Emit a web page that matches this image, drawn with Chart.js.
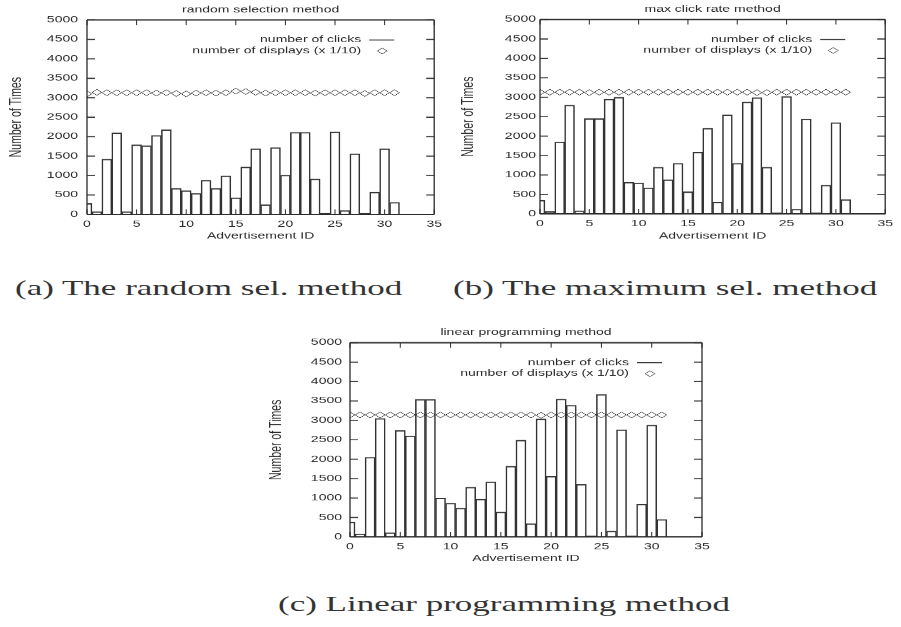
<!DOCTYPE html>
<html>
<head>
<meta charset="utf-8">
<script src="https://cdn.jsdelivr.net/npm/chart.js@4.4.1/dist/chart.umd.min.js"></script>
<style>
  body { margin: 0; background: #fff; width: 901px; height: 627px; position: relative; overflow: hidden; }
  canvas { position: absolute; }
  .cap {
    position: absolute;
    font: 35px/35px "Liberation Serif", "Times New Roman", serif;
    color: #333;
    white-space: nowrap;
    transform: scaleY(0.6);
    transform-origin: 0 0;
  }
</style>
</head>
<body>
<canvas id="randomChart"></canvas>
<canvas id="maxChart"></canvas>
<canvas id="lpChart"></canvas>
<div class="cap" style="left:15px; top:278px">(a) The random sel. method</div>
<div class="cap" style="left:453px; top:278px">(b) The maximum sel. method</div>
<div class="cap" style="left:278px; top:594px">(c) Linear programming method</div>

<script>
// advertisement ids on the x axis
const ids = [0, 1, 2, 3, 4, 5, 6, 7, 8, 9, 10, 11, 12, 13, 14, 15,
             16, 17, 18, 19, 20, 21, 22, 23, 24, 25, 26, 27, 28, 29, 30, 31];

// clicks per ad
const randomClicks = [280, 70, 1420, 2100, 70, 1790, 1770, 2030, 2180, 670, 610, 540, 880, 670, 990, 430,
                      1220, 1690, 250, 1720, 1010, 2110, 2110, 910, 30, 2120, 100, 1560, 30, 570, 1690, 310];
const maxClicks = [350, 60, 1850, 2800, 80, 2450, 2450, 2950, 3000, 810, 800, 670, 1200, 880, 1300, 570,
                   1590, 2200, 300, 2550, 1300, 2880, 2990, 1200, 30, 3020, 120, 2440, 30, 740, 2350, 370];
const lpClicks = [380, 80, 2050, 3050, 110, 2740, 2600, 3540, 3540, 1000, 870, 740, 1280, 970, 1420, 640,
                  1820, 2490, 340, 3040, 1560, 3550, 3390, 1350, 30, 3670, 150, 2760, 30, 840, 2880, 450];

// displays per ad, already divided by 10
const randomDisplays = [3100, 3140, 3130, 3130, 3130, 3130, 3130, 3120, 3130, 3110, 3100, 3120, 3130, 3120, 3130, 3170,
                        3160, 3140, 3120, 3130, 3130, 3130, 3130, 3120, 3130, 3130, 3130, 3130, 3110, 3130, 3130, 3130];
const maxDisplays = [3130, 3130, 3130, 3130, 3130, 3120, 3130, 3130, 3130, 3130, 3130, 3130, 3130, 3130, 3130, 3130,
                     3130, 3130, 3130, 3130, 3130, 3130, 3120, 3120, 3130, 3130, 3130, 3130, 3130, 3130, 3130, 3130];
const lpDisplays = [3140, 3140, 3140, 3140, 3140, 3140, 3140, 3140, 3140, 3140, 3140, 3140, 3140, 3140, 3140, 3140,
                    3140, 3140, 3140, 3130, 3140, 3140, 3140, 3140, 3140, 3140, 3140, 3140, 3140, 3140, 3140, 3140];

const yTicks = [0, 500, 1000, 1500, 2000, 2500, 3000, 3500, 4000, 4500, 5000];
const xTicks = [0, 5, 10, 15, 20, 25, 30, 35];

// gnuplot output is squashed vertically, so every canvas is drawn taller and shown at S
const S = 0.62;
const INK = '#2b2b2b';
const SANS = '"Liberation Sans", Arial, sans-serif';

function frameAndLegend(title, f) {
  return {
    id: 'frameAndLegend',
    afterDraw(chart) {
      const ctx = chart.ctx;
      const a = chart.chartArea;
      const xs = chart.scales.x, ys = chart.scales.y;
      ctx.save();
      ctx.strokeStyle = INK;

      // border box
      ctx.lineWidth = 1.3;
      ctx.beginPath();
      ctx.moveTo(a.left, a.top); ctx.lineTo(a.left, a.bottom);
      ctx.moveTo(a.right, a.top); ctx.lineTo(a.right, a.bottom);
      ctx.stroke();
      ctx.lineWidth = 1.3 / S;
      ctx.beginPath();
      ctx.moveTo(a.left, a.top); ctx.lineTo(a.right, a.top);
      ctx.moveTo(a.left, a.bottom); ctx.lineTo(a.right, a.bottom);
      ctx.stroke();

      // ticks point inward on all four sides
      ctx.lineWidth = 1;
      ctx.beginPath();
      xTicks.forEach(v => {
        const px = xs.getPixelForValue(v);
        ctx.moveTo(px, a.bottom); ctx.lineTo(px, a.bottom - 5 / S);
        ctx.moveTo(px, a.top); ctx.lineTo(px, a.top + 5 / S);
      });
      ctx.stroke();
      ctx.lineWidth = 1 / S;
      ctx.beginPath();
      yTicks.forEach(v => {
        const py = ys.getPixelForValue(v);
        ctx.moveTo(a.left, py); ctx.lineTo(a.left + 8, py);
        ctx.moveTo(a.right, py); ctx.lineTo(a.right - 8, py);
      });
      ctx.stroke();

      // title
      ctx.fillStyle = INK;
      ctx.font = '14px ' + SANS;
      ctx.textAlign = 'center';
      ctx.textBaseline = 'middle';
      ctx.fillText(title, (a.left + a.right) / 2, (f.t - 10) / S);

      // key, gnuplot style: text on the left, sample on the right
      const textX = a.right - 73;
      const y1 = (f.t + 20) / S, y2 = (f.t + 31) / S;
      ctx.textAlign = 'right';
      ctx.fillText('number of clicks', textX, y1);
      ctx.fillText('number of displays (x 1/10)', textX, y2);
      ctx.lineWidth = 1 / S;
      ctx.beginPath();
      ctx.moveTo(a.right - 65, y1); ctx.lineTo(a.right - 40, y1);
      ctx.stroke();
      const cx = a.right - 52, r = 4.8;
      ctx.lineWidth = 1;
      ctx.beginPath();
      ctx.moveTo(cx - r, y2); ctx.lineTo(cx, y2 - r); ctx.lineTo(cx + r, y2); ctx.lineTo(cx, y2 + r);
      ctx.closePath();
      ctx.stroke();
      ctx.restore();
    }
  };
}

function makeChart(canvasId, title, clicks, displays, f) {
  const canvas = document.getElementById(canvasId);
  const hInt = Math.round(f.h / S);
  canvas.width = f.w;
  canvas.height = hInt;
  canvas.style.left = f.x + 'px';
  canvas.style.top = f.y + 'px';
  canvas.style.width = f.w + 'px';
  canvas.style.height = f.h + 'px';
  const xAxisH = hInt - f.b / S;

  return new Chart(canvas.getContext('2d'), {
    type: 'bar',
    data: {
      datasets: [
        {
          type: 'line',
          label: 'number of displays (x 1/10)',
          data: ids.map((id, i) => ({ x: id, y: displays[i] })),
          showLine: false,
          pointStyle: 'rectRot',
          pointRadius: 4.8,
          pointBorderWidth: 1,
          borderColor: INK,
          backgroundColor: 'rgba(0,0,0,0)',
          order: 0
        },
        {
          label: 'number of clicks',
          data: ids.map((id, i) => ({ x: id, y: clicks[i] })),
          backgroundColor: 'rgba(0,0,0,0)',
          borderColor: '#333',
          borderWidth: { top: 1.4, left: 0.9, right: 0.9, bottom: 0 },
          barPercentage: 1,
          categoryPercentage: 1,
          clip: 0,
          order: 1
        }
      ]
    },
    options: {
      responsive: false,
      animation: false,
      events: [],
      layout: { padding: { top: f.t / S, right: f.w - f.r, bottom: 0, left: 0 } },
      plugins: { legend: { display: false }, tooltip: { enabled: false } },
      scales: {
        x: {
          type: 'linear',
          offset: false,
          min: 0,
          max: 35,
          grid: { display: false, drawTicks: false },
          border: { display: false },
          ticks: { stepSize: 5, padding: 8, color: INK, font: { size: 14, family: SANS } },
          title: {
            display: true,
            text: 'Advertisement ID',
            color: INK,
            font: { size: 14, family: SANS },
            padding: { top: 0, bottom: xAxisH - 22 / S - 8.4 }
          },
          afterFit(scale) { scale.height = xAxisH; }
        },
        y: {
          min: 0,
          max: 5000,
          grid: { display: false, drawTicks: false },
          border: { display: false },
          ticks: {
            stepSize: 500,
            padding: f.tp,
            color: INK,
            font: { size: 14, family: SANS },
            callback: v => String(v)
          },
          title: {
            display: true,
            text: 'Number of Times',
            color: INK,
            font: { size: 17, family: SANS },
            padding: { top: f.yt - 10.2, bottom: 0 }
          },
          afterFit(scale) { scale.width = f.l; }
        }
      }
    },
    plugins: [frameAndLegend(title, f)]
  });
}

// x, y: canvas position; l, r, t, b: plot box inside the canvas (page px)
makeChart('randomChart', 'random selection method', randomClicks, randomDisplays,
  { x: 0, y: 0, w: 450, h: 246, l: 87, r: 443, t: 20, b: 214.5, tp: 9, yt: 16 });
makeChart('maxChart', 'max click rate method', maxClicks, maxDisplays,
  { x: 450, y: 0, w: 451, h: 246, l: 90, r: 442, t: 19.5, b: 214, tp: 4, yt: 18 });
makeChart('lpChart', 'linear programming method', lpClicks, lpDisplays,
  { x: 260, y: 320, w: 460, h: 246, l: 90, r: 442, t: 22.7, b: 217, tp: 8, yt: 16 });
</script>
</body>
</html>
